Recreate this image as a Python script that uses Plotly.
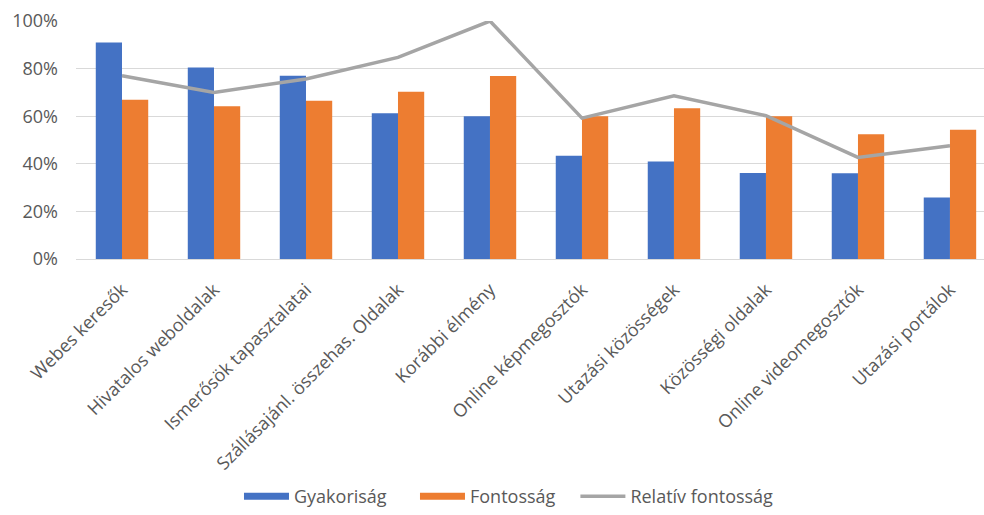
import plotly.graph_objects as go

categories = [
    "Webes keresők",
    "Hivatalos weboldalak",
    "Ismerősök tapasztalatai",
    "Szállásajánl. összehas. Oldalak",
    "Korábbi élmény",
    "Online képmegosztók",
    "Utazási közösségek",
    "Közösségi oldalak",
    "Online videomegosztók",
    "Utazási portálok",
]
gyakorisag = [0.91, 0.805, 0.77, 0.612, 0.60, 0.434, 0.41, 0.361, 0.36, 0.258]
fontossag = [0.669, 0.642, 0.665, 0.703, 0.769, 0.60, 0.633, 0.60, 0.524, 0.543]
relativ = [0.77, 0.70, 0.756, 0.847, 1.00, 0.592, 0.686, 0.602, 0.427, 0.476]
y_ticks = [0, 0.2, 0.4, 0.6, 0.8, 1.0]
series_names = ["Gyakoriság", "Fontosság", "Relatív fontosság"]

BLUE = "#4472C4"
ORANGE = "#ED7D31"
GRAY = "#A5A5A5"
TEXT = "#595959"
FONT = "Open Sans, Liberation Sans, sans-serif"

fig = go.Figure()
fig.add_trace(go.Bar(x=categories, y=gyakorisag, name=series_names[0],
                     showlegend=False, marker=dict(color=BLUE, line=dict(width=0))))
fig.add_trace(go.Bar(x=categories, y=fontossag, name=series_names[1],
                     showlegend=False, marker=dict(color=ORANGE, line=dict(width=0))))
fig.add_trace(go.Scatter(x=categories, y=relativ, name=series_names[2],
                         showlegend=False, mode="lines",
                         line=dict(color=GRAY, width=3.5)))

# legend keys: wide flat swatches for the bars, a thinner stroke for the line
for name, color, width, leg in zip(series_names, [BLUE, ORANGE, GRAY], [7, 7, 3.5],
                                   ["legend", "legend", "legend2"]):
    fig.add_trace(go.Scatter(x=[None], y=[None], name=name, mode="lines",
                             line=dict(color=color, width=width), legend=leg,
                             showlegend=True, hoverinfo="skip"))

legend_common = dict(orientation="h", y=-1.0, yanchor="middle", xanchor="left",
                     font=dict(size=18, color=TEXT), itemwidth=45,
                     traceorder="normal", bgcolor="rgba(0,0,0,0)")

fig.update_layout(
    width=984, height=515,
    margin=dict(l=76, r=0, t=21, b=255),
    paper_bgcolor="white", plot_bgcolor="white",
    barmode="group", bargap=0.43, bargroupgap=0,
    font=dict(family=FONT, color=TEXT, size=18),
    legend=dict(x=0.1795, entrywidth=116, **legend_common),
    legend2=dict(x=0.55, **legend_common),
    xaxis=dict(range=[-0.5, 9.37], tickangle=-45, showgrid=False, automargin=False,
               showline=True, linecolor="#D9D9D9", linewidth=1, ticks="",
               ticklabelstandoff=12, tickfont=dict(size=18, color=TEXT)),
    yaxis=dict(range=[0, 1.0], tickvals=y_ticks, tickformat=".0%", automargin=False,
               showgrid=True, gridcolor="#D9D9D9", gridwidth=1,
               zeroline=False, ticks="", ticklabelstandoff=17,
               tickfont=dict(size=18, color=TEXT)),
)

fig.write_html("out.html")
